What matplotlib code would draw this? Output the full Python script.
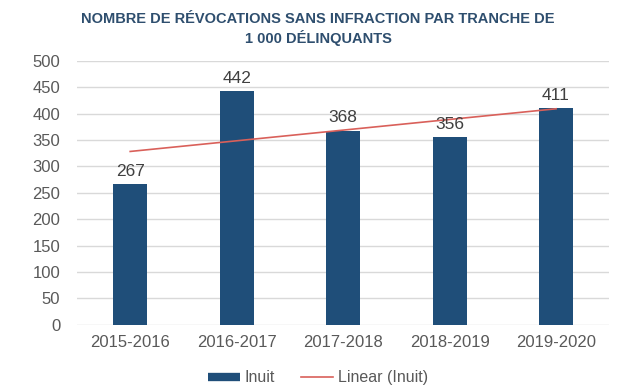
import numpy as np
from matplotlib import pyplot as plt
from matplotlib.lines import Line2D

plt.rcParams['font.family'] = ['Liberation Sans', 'DejaVu Sans']

periods = ["2015-2016", "2016-2017", "2017-2018", "2018-2019", "2019-2020"]
inuit = [267, 442, 368, 356, 411]

bar_color = "#1F4E79"
trend_color = "#D9605A"
text_gray = "#595959"

fig = plt.figure(figsize=(6.36, 3.9), dpi=100)
ax = fig.add_axes([0.121, 0.167, 0.837, 0.677])

x = np.arange(len(periods))
ax.bar(x, inuit, width=0.32, color=bar_color, zorder=3)

# linear trend line
slope, intercept = np.polyfit(x, inuit, 1)
ax.plot(x, slope * x + intercept, color=trend_color, linewidth=1.2, zorder=4)

for xi, v in zip(x, inuit):
    ax.text(xi, v + 10, str(v), ha="center", va="bottom", fontsize=12.5,
            color="#404040", zorder=5)

ax.set_xlim(-0.5, len(periods) - 0.5)
ax.set_ylim(0, 500)
ax.set_yticks(range(0, 501, 50))
ax.set_xticks(x)
ax.set_xticklabels(periods)
ax.tick_params(axis="both", length=0, labelsize=12, colors=text_gray)
ax.tick_params(axis="y", pad=12)
ax.tick_params(axis="x", pad=7)
ax.yaxis.grid(True, color="#D9D9D9", linewidth=1, zorder=0)
for s in ax.spines.values():
    s.set_visible(False)

fig.text(0.5, 0.97, "NOMBRE DE RÉVOCATIONS SANS INFRACTION PAR TRANCHE DE\n1 000 DÉLINQUANTS",
         ha="center", va="top", fontsize=10.5, fontweight="bold", color="#2E4E6E",
         linespacing=1.3)

handles = [Line2D([], [], color=bar_color, linewidth=6, solid_capstyle="butt"),
           Line2D([], [], color=trend_color, linewidth=1.2)]
fig.legend(handles, ["Inuit", "Linear (Inuit)"], loc="lower center",
           bbox_to_anchor=(0.5, -0.025), ncol=2, frameon=False, fontsize=11.5,
           labelcolor=text_gray, handlelength=2.0, handletextpad=0.3,
           columnspacing=1.6)

fig.savefig("out.png", dpi=100)
